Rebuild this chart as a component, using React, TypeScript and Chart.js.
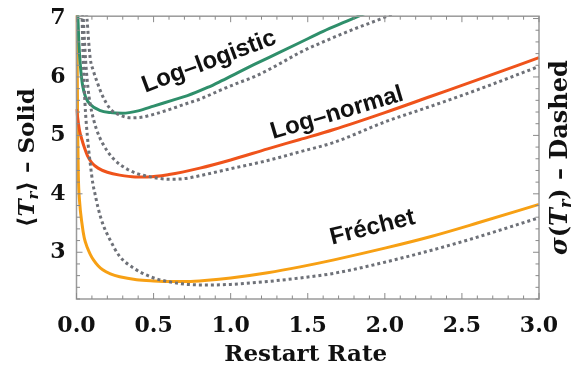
import React, { useEffect, useRef } from 'react';
import { Chart, registerables } from 'chart.js';
Chart.register(...registerables);

// ---- data ----
const xTickValues = [0, 0.5, 1, 1.5, 2, 2.5, 3];
const yTickValues = [3, 4, 5, 6, 7];

const logLogisticMeanX = [0.008, 0.015, 0.025, 0.04, 0.06, 0.09, 0.15, 0.22, 0.3, 0.4, 0.5, 0.62, 0.72, 0.85, 0.93, 1.05, 1.15, 1.3, 1.45, 1.6, 1.75, 1.9];
const logLogisticMeanY = [7.1, 6.6, 6.2, 5.85, 5.65, 5.53, 5.43, 5.39, 5.38, 5.42, 5.5, 5.6, 5.68, 5.82, 5.92, 6.08, 6.21, 6.4, 6.59, 6.78, 6.95, 7.12];

const logLogisticSdX = [0.062, 0.068, 0.088, 0.11, 0.133, 0.17, 0.22, 0.28, 0.35, 0.42, 0.5, 0.6, 0.72, 0.8, 0.93, 1.05, 1.15, 1.3, 1.45, 1.6, 1.8, 1.97, 2.05];
const logLogisticSdY = [7.2, 7.0, 6.34, 6.1, 5.92, 5.67, 5.45, 5.35, 5.3, 5.31, 5.36, 5.44, 5.55, 5.62, 5.77, 5.9, 6.0, 6.2, 6.42, 6.6, 6.82, 6.99, 7.08];

const logNormalMeanX = [0, 0.01, 0.02, 0.035, 0.05, 0.07, 0.1, 0.14, 0.2, 0.28, 0.38, 0.46, 0.6, 0.8, 1.0, 1.24, 1.45, 1.67, 2.0, 2.3, 2.6, 3.0];
const logNormalMeanY = [5.45, 5.25, 5.08, 4.93, 4.8, 4.66, 4.53, 4.44, 4.37, 4.32, 4.29, 4.29, 4.33, 4.44, 4.58, 4.77, 4.93, 5.1, 5.39, 5.67, 5.95, 6.33];

const logNormalSdX = [0.04, 0.05, 0.06, 0.075, 0.088, 0.11, 0.133, 0.17, 0.24, 0.33, 0.39, 0.48, 0.6, 0.7, 0.8, 1.0, 1.24, 1.45, 1.67, 2.0, 2.3, 2.6, 3.0];
const logNormalSdY = [7.2, 6.7, 6.25, 5.8, 5.55, 5.28, 5.08, 4.86, 4.6, 4.42, 4.35, 4.29, 4.25, 4.26, 4.31, 4.43, 4.57, 4.72, 4.88, 5.23, 5.5, 5.78, 6.18];

const frechetMeanX = [0.002, 0.004, 0.008, 0.012, 0.02, 0.035, 0.05, 0.07, 0.09, 0.11, 0.14, 0.17, 0.22, 0.28, 0.39, 0.5, 0.61, 0.72, 0.85, 1.0, 1.24, 1.45, 1.67, 2.0, 2.3, 2.6, 3.0];
const frechetMeanY = [7.5, 6.5, 5.0, 4.3, 3.87, 3.5, 3.25, 3.08, 2.96, 2.87, 2.77, 2.7, 2.63, 2.58, 2.53, 2.51, 2.5, 2.5, 2.52, 2.56, 2.65, 2.75, 2.87, 3.07, 3.27, 3.5, 3.82];

const frechetSdX = [0.035, 0.04, 0.048, 0.055, 0.07, 0.09, 0.107, 0.12, 0.14, 0.17, 0.22, 0.28, 0.37, 0.48, 0.59, 0.72, 0.85, 1.0, 1.24, 1.45, 1.67, 2.0, 2.5, 3.0];
const frechetSdY = [7.2, 6.6, 6.0, 5.55, 5.0, 4.5, 4.16, 4.0, 3.76, 3.49, 3.2, 2.93, 2.73, 2.58, 2.5, 2.45, 2.44, 2.45, 2.5, 2.56, 2.64, 2.83, 3.18, 3.59];

const curveLabels = ['Log\u2013logistic', 'Log\u2013normal', 'Fr\u00e9chet'];

const GREEN = '#2f8f6b';
const RED = '#ef531b';
const ORANGE = '#f7a014';
const GRAY = '#6e7178';

const pts = (xs: number[], ys: number[]) => xs.map((x, i) => ({ x, y: ys[i] }));

const SERIF = "'DejaVu Serif', serif";
const SANS = "'Liberation Sans', Arial, sans-serif";

function drawPieces(ctx: CanvasRenderingContext2D, pieces: { t: string; f: string; dy?: number }[], cx: number, cy: number) {
  let total = 0;
  for (const p of pieces) { ctx.font = p.f; total += ctx.measureText(p.t).width; }
  let x = cx - total / 2;
  for (const p of pieces) {
    ctx.font = p.f;
    ctx.fillText(p.t, x, cy + (p.dy || 0));
    x += ctx.measureText(p.t).width;
  }
}

const decor = {
  id: 'decor',
  afterDatasetsDraw(chart: any) {
    const { ctx, scales } = chart;
    const xs = scales.x, ys = scales.y;
    ctx.save();
    ctx.fillStyle = '#111';
    ctx.font = `bold 24px ${SANS}`;
    ctx.textAlign = 'center';
    ctx.textBaseline = 'middle';
    const place = [
      { x: 0.86, y: 6.26, a: -20.5 },
      { x: 1.69, y: 5.38, a: -16.5 },
      { x: 1.92, y: 3.42, a: -14 },
    ];
    curveLabels.forEach((t, i) => {
      const p = place[i];
      ctx.save();
      ctx.translate(xs.getPixelForValue(p.x), ys.getPixelForValue(p.y));
      ctx.rotate((p.a * Math.PI) / 180);
      ctx.fillText(t, 0, 0);
      ctx.restore();
    });
    ctx.restore();
  },
  afterDraw(chart: any) {
    const { ctx, chartArea: a, scales } = chart;
    const xs = scales.x, ys = scales.y;
    ctx.save();
    ctx.strokeStyle = '#9a9a9a';
    ctx.lineWidth = 1.5;
    ctx.strokeRect(a.left, a.top, a.right - a.left, a.bottom - a.top);
    ctx.lineWidth = 1;
    ctx.strokeStyle = '#8a8a8a';
    ctx.beginPath();
    for (let i = 0; i <= 30; i++) {
      const px = xs.getPixelForValue(i / 10);
      const len = i % 5 === 0 ? 6 : 3.5;
      ctx.moveTo(px, a.bottom); ctx.lineTo(px, a.bottom - len);
      ctx.moveTo(px, a.top); ctx.lineTo(px, a.top + len);
    }
    for (let k = 11; k <= 35; k++) {
      const py = ys.getPixelForValue(k / 5);
      const len = k % 5 === 0 ? 6 : 3.5;
      ctx.moveTo(a.left, py); ctx.lineTo(a.left + len, py);
      ctx.moveTo(a.right, py); ctx.lineTo(a.right - len, py);
    }
    ctx.stroke();

    // axis titles
    ctx.fillStyle = '#111';
    ctx.textBaseline = 'middle';
    ctx.textAlign = 'left';
    const midY = (a.top + a.bottom) / 2;
    const B = `bold 23px ${SERIF}`;
    const BI = `italic bold 23px ${SERIF}`;
    const SUB = `italic bold 15px ${SERIF}`;
    ctx.save();
    ctx.translate(28, midY);
    ctx.rotate(-Math.PI / 2);
    drawPieces(ctx, [
      { t: '\u27e8', f: B },
      { t: 'T', f: BI },
      { t: 'r', f: SUB, dy: 6 },
      { t: '\u27e9 \u2013 Solid', f: B },
    ], 0, 0);
    ctx.restore();
    const B2 = `bold 24px ${SERIF}`;
    const BI2 = `italic bold 24px ${SERIF}`;
    const SUB2 = `italic bold 16px ${SERIF}`;
    ctx.save();
    ctx.translate(561, midY);
    ctx.rotate(-Math.PI / 2);
    drawPieces(ctx, [
      { t: '\u03c3', f: BI2 },
      { t: '(', f: B2 },
      { t: 'T', f: BI2 },
      { t: 'r', f: SUB2, dy: 6 },
      { t: ') \u2013 Dashed', f: B2 },
    ], 0, 0);
    ctx.restore();
    ctx.textAlign = 'center';
    ctx.font = B;
    ctx.fillText('Restart Rate', (a.left + a.right) / 2 - 2, 355);
    ctx.restore();
  },
};

export default function App() {
  const ref = useRef<HTMLCanvasElement>(null);
  useEffect(() => {
    if (!ref.current) return;
    const solid = (label: string, xs: number[], ys: number[], color: string) => ({
      label, data: pts(xs, ys), borderColor: color, backgroundColor: color,
      borderWidth: 3, pointRadius: 0, cubicInterpolationMode: 'monotone' as const, clip: 1,
    });
    const dotted = (label: string, xs: number[], ys: number[]) => ({
      label, data: pts(xs, ys), borderColor: GRAY, backgroundColor: GRAY,
      borderWidth: 3, borderDash: [3, 3], pointRadius: 0, cubicInterpolationMode: 'monotone' as const, clip: 1,
    });
    const chart = new Chart(ref.current, {
      type: 'line',
      data: {
        datasets: [
          dotted('Log-logistic sd', logLogisticSdX, logLogisticSdY),
          dotted('Log-normal sd', logNormalSdX, logNormalSdY),
          dotted('Frechet sd', frechetSdX, frechetSdY),
          solid('Log-logistic mean', logLogisticMeanX, logLogisticMeanY, GREEN),
          solid('Log-normal mean', logNormalMeanX, logNormalMeanY, RED),
          solid('Frechet mean', frechetMeanX, frechetMeanY, ORANGE),
        ],
      },
      options: {
        responsive: false,
        animation: false,
        layout: { padding: { top: 13, right: 46, left: 0, bottom: 0 } },
        plugins: { legend: { display: false }, tooltip: { enabled: false } },
        scales: {
          x: {
            type: 'linear', min: 0, max: 3,
            grid: { display: false }, border: { display: false },
            afterBuildTicks: (s: any) => { s.ticks = xTickValues.map((v) => ({ value: v })); },
            afterFit: (s: any) => { s.height = 72; },
            ticks: {
              padding: 6, color: '#111', maxRotation: 0, autoSkip: false,
              font: { family: SERIF, size: 22, weight: 'bold' },
              callback: (v: any) => Number(v).toFixed(1),
            },
          },
          y: {
            type: 'linear', min: 2.2, max: 7.04,
            grid: { display: false }, border: { display: false },
            afterBuildTicks: (s: any) => { s.ticks = yTickValues.map((v) => ({ value: v })); },
            afterFit: (s: any) => { s.width = 76.5; },
            ticks: {
              padding: 3, color: '#111', autoSkip: false,
              font: { family: SERIF, size: 22, weight: 'bold' },
              callback: (v: any) => String(v),
            },
          },
        },
      },
      plugins: [decor],
    } as any);
    return () => chart.destroy();
  }, []);
  return (
    <canvas
      ref={ref}
      width={585}
      height={371}
      style={{ position: 'fixed', left: 0, top: 0, display: 'block', background: '#fff' }}
    />
  );
}
